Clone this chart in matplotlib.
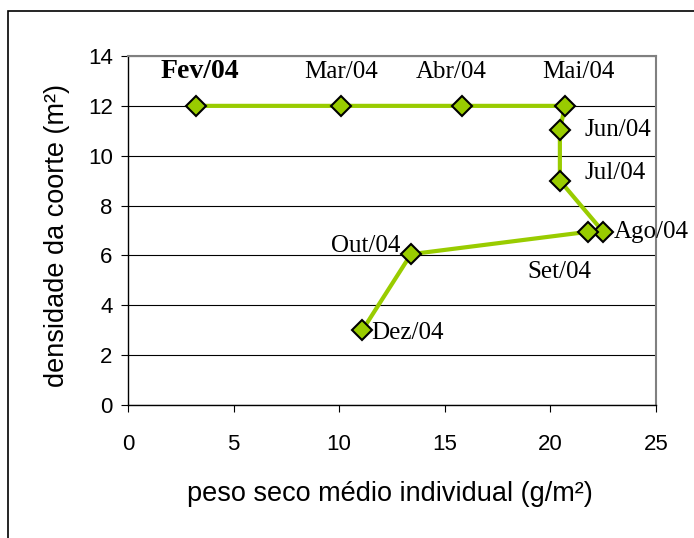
import matplotlib.pyplot as plt
from matplotlib.patches import Rectangle

# data (dry weight vs cohort density)
months = ['Fev/04', 'Mar/04', 'Abr/04', 'Mai/04', 'Jun/04', 'Jul/04',
          'Ago/04', 'Set/04', 'Out/04', 'Dez/04']
peso = [3.2, 10.1, 15.8, 20.7, 20.45, 20.45, 22.5, 21.8, 13.4, 11.1]
densidade = [12.0, 12.0, 12.0, 12.0, 11.05, 9.0, 6.95, 6.95, 6.05, 3.0]

# label placement (data units) and alignment
label_pos = [(3.4, 13.36, 'center'), (10.1, 13.36, 'center'), (15.3, 13.36, 'center'),
             (21.35, 13.36, 'center'), (21.6, 11.05, 'left'), (21.6, 9.3, 'left'),
             (23.0, 6.94, 'left'), (20.45, 5.33, 'center'), (12.88, 6.38, 'right'),
             (11.5, 2.9, 'left')]

green = '#99cc00'

fig = plt.figure(figsize=(6.94, 5.38), dpi=100)
fig.patches.append(Rectangle((8 / 694, -0.1), 1.2, 1.1 - 11 / 538, transform=fig.transFigure,
                             fill=False, edgecolor='black', linewidth=1.2))
ax = fig.add_axes([0.1844, 0.2472, 0.7608, 0.6487])

ax.set_xlim(0, 25)
ax.set_ylim(0, 14)
ax.set_xticks(range(0, 26, 5))
ax.set_yticks(range(0, 15, 2))
ax.yaxis.grid(True, color='black', linewidth=0.8)
ax.set_axisbelow(True)

ax.plot(peso, densidade, color=green, linewidth=3, marker='D', markersize=10.5,
        markerfacecolor=green, markeredgecolor='black', markeredgewidth=1.5, zorder=3)

for name, (lx, ly, ha) in zip(months, label_pos):
    bold = name == 'Fev/04'
    ax.text(lx, ly, name, ha=ha, va='center', family='Liberation Serif',
            fontsize=20 if bold else 18, fontweight='bold' if bold else 'normal', zorder=4)

for side in ['top', 'right']:
    ax.spines[side].set_color('#808080')
    ax.spines[side].set_linewidth(1.5)
for side in ['left', 'bottom']:
    ax.spines[side].set_linewidth(1.0)

ax.tick_params(direction='out', length=5, labelsize=16, width=0.8)
for lbl in ax.get_xticklabels() + ax.get_yticklabels():
    lbl.set_family('Liberation Sans')
ax.tick_params(axis='x', pad=16)
ax.tick_params(axis='y', pad=6)

ax.set_xlabel('peso seco médio individual (g/m²)', family='Liberation Sans', fontsize=19.5)
ax.set_ylabel('densidade da coorte (m²)', family='Liberation Sans', fontsize=19.5)
ax.xaxis.set_label_coords(0.496, -0.218)
ax.yaxis.set_label_coords(-0.11, 0.485)

fig.savefig('out.png', dpi=100)
